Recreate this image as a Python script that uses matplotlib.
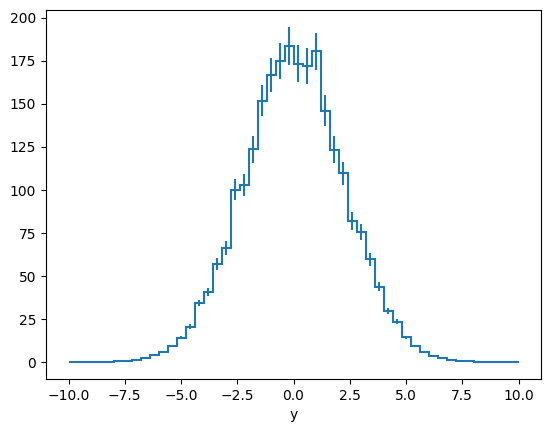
import numpy as np
import matplotlib
matplotlib.use("Agg")
import matplotlib.pyplot as plt

# 50 regular bins on [-10, 10]
edges = np.linspace(-10, 10, 51)

counts = [
    0, 0, 0, 0, 0,
    1.0, 1.0, 1.5, 2.5, 4.4, 6.0, 9.5, 14.1, 20.6, 34.4,
    40.7, 56.8, 66.2, 100.3, 102.8, 123.6, 151.9, 166.9, 175.0, 183.8,
    173.3, 172.1, 180.5, 146.1, 123.4, 109.6, 81.8, 75.4, 59.8, 43.7,
    29.8, 23.5, 14.6, 9.5, 6.1, 3.8, 2.7, 1.5, 0.9, 0.9,
    0, 0, 0, 0, 0,
]

errors = [
    0, 0, 0, 0, 0,
    0.06, 0.06, 0.1, 0.15, 0.3, 0.4, 0.6, 0.9, 1.35, 1.9,
    2.5, 3.5, 4.1, 5.9, 6.5, 8.0, 9.0, 10.0, 10.6, 11.0,
    10.7, 10.5, 10.8, 9.1, 7.7, 6.9, 5.2, 4.6, 3.8, 2.6,
    1.6, 1.4, 0.9, 0.6, 0.4, 0.25, 0.17, 0.1, 0.06, 0.06,
    0, 0, 0, 0, 0,
]

xlabel = "y"

centers = 0.5 * (edges[:-1] + edges[1:])

fig = plt.figure(figsize=(5.52, 4.32), dpi=100)
ax = fig.add_axes([46 / 552, 1 - 379 / 432, 495 / 552, 369 / 432])

ax.stairs(counts, edges, baseline=None, color="C0", linewidth=1.5)
ax.errorbar(centers, counts, yerr=errors, fmt="none", ecolor="C0", elinewidth=1.5)

ax.set_xlabel(xlabel)

fig.savefig("out.png", dpi=100)
